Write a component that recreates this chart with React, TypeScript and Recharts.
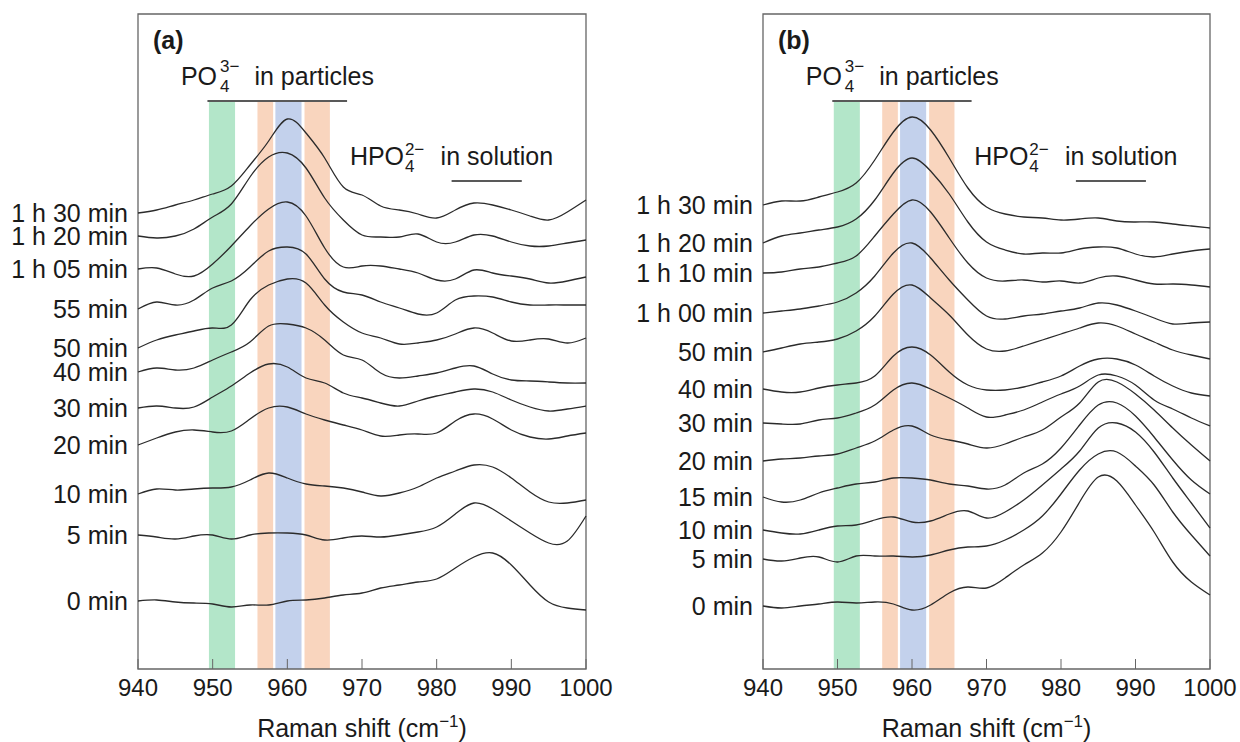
import React from "react";
import { LineChart, Line, XAxis, YAxis, ReferenceArea, ReferenceLine } from "recharts";

// Raman shift grid (cm-1)
const shifts = [940, 942.5, 945, 947.5, 950, 952.5, 955, 957.5, 960, 962.5, 965, 967.5, 970, 972.5, 975, 977.5, 980, 982.5, 985, 987.5, 990, 992.5, 995, 997.5, 1000];
const xTicks = [940, 950, 960, 970, 980, 990, 1000];

// panel (a) - stacked spectra, offset intensity (a.u.)
const labelsA = ["1 h 30 min", "1 h 20 min", "1 h 05 min", "55 min", "50 min", "40 min", "30 min", "20 min", "10 min", "5 min", "0 min"];
const a130 = [456, 459, 464, 469, 475, 483, 504, 528, 550, 536, 511, 482, 474, 463, 459, 455, 451, 459, 466, 464, 459, 453, 449, 457, 469];
const a120 = [433, 431, 433, 440, 452, 465, 492, 512, 516, 501, 471, 449, 434, 432, 432, 435, 427, 427, 434, 433, 427, 423, 423, 426, 429];
const a105 = [400, 401, 395, 393, 405, 423, 443, 460, 467, 453, 421, 402, 403, 403, 400, 396, 389, 390, 399, 396, 393, 390, 386, 388, 392];
const a55 = [360, 367, 364, 369, 381, 388, 402, 418, 422, 415, 390, 377, 374, 367, 361, 355, 356, 369, 373, 372, 367, 364, 364, 364, 364];
const a50 = [321, 329, 334, 338, 341, 344, 369, 384, 390, 386, 364, 347, 336, 331, 325, 326, 329, 335, 341, 336, 328, 329, 330, 326, 331];
const a40 = [297, 301, 299, 301, 309, 317, 327, 343, 345, 341, 329, 314, 309, 296, 291, 293, 296, 301, 303, 295, 289, 288, 287, 286, 286];
const a30 = [261, 263, 261, 262, 272, 283, 296, 305, 302, 291, 286, 276, 271, 266, 263, 268, 273, 277, 280, 277, 269, 262, 258, 260, 263];
const a20 = [224, 231, 237, 239, 237, 238, 250, 261, 262, 255, 249, 244, 239, 233, 234, 235, 236, 248, 255, 250, 239, 232, 230, 233, 236];
const a10 = [175, 180, 179, 180, 181, 182, 189, 196, 191, 185, 183, 181, 177, 173, 176, 182, 191, 198, 204, 202, 191, 177, 167, 166, 169];
const a5 = [134, 132, 130, 133, 134, 130, 134, 136, 136, 134, 129, 131, 133, 132, 134, 137, 142, 155, 166, 160, 148, 136, 126, 128, 153];
const a0 = [68, 69, 67, 66, 65, 62, 64, 64, 68, 69, 71, 74, 76, 81, 84, 87, 90, 101, 112, 116, 104, 84, 67, 61, 59];

// panel (b)
const labelsB = ["1 h 30 min", "1 h 20 min", "1 h 10 min", "1 h 00 min", "50 min", "40 min", "30 min", "20 min", "15 min", "10 min", "5 min", "0 min"];
const b130 = [464, 468, 468, 472, 477, 486, 509, 537, 552, 539, 511, 481, 462, 455, 452, 451, 449, 450, 451, 448, 447, 447, 445, 443, 441];
const b120 = [426, 433, 436, 439, 442, 450, 469, 496, 511, 498, 475, 447, 427, 419, 415, 416, 416, 420, 422, 421, 415, 412, 415, 418, 420];
const b110 = [396, 397, 400, 402, 406, 413, 433, 455, 469, 457, 431, 406, 391, 388, 389, 387, 388, 386, 391, 393, 389, 385, 385, 384, 382];
const b100 = [356, 358, 360, 363, 367, 376, 393, 416, 426, 411, 389, 369, 353, 350, 353, 355, 358, 361, 366, 364, 358, 351, 345, 346, 347];
const b50 = [317, 321, 325, 327, 330, 338, 353, 375, 384, 371, 354, 334, 320, 318, 323, 329, 335, 341, 346, 343, 335, 327, 319, 314, 310];
const b40 = [280, 277, 277, 281, 284, 286, 293, 313, 322, 314, 297, 284, 279, 279, 282, 287, 293, 303, 310, 310, 304, 293, 283, 276, 273];
const b30 = [246, 245, 245, 249, 251, 256, 264, 279, 286, 280, 271, 261, 252, 254, 259, 267, 275, 283, 294, 293, 284, 269, 260, 251, 243];
const b20 = [208, 210, 211, 213, 215, 221, 228, 239, 243, 234, 229, 225, 221, 225, 232, 239, 252, 266, 287, 287, 275, 259, 241, 224, 208];
const b15 = [172, 167, 169, 176, 181, 185, 187, 191, 191, 189, 185, 183, 180, 184, 196, 205, 221, 244, 264, 266, 253, 232, 209, 189, 175];
const b10 = [139, 136, 135, 139, 143, 144, 149, 152, 147, 148, 155, 158, 151, 157, 169, 184, 200, 218, 241, 246, 237, 217, 191, 166, 141];
const b5 = [110, 108, 111, 112, 107, 113, 113, 113, 112, 114, 119, 122, 123, 129, 139, 153, 175, 199, 215, 217, 203, 184, 157, 134, 113];
const b0 = [63, 61, 63, 65, 67, 66, 67, 65, 59, 64, 76, 82, 81, 91, 104, 116, 137, 167, 192, 188, 164, 137, 107, 87, 74];

// shaded bands (cm-1)
const bandFrom = [949.5, 956, 958.4, 962.3];
const bandTo = [953, 958.1, 961.9, 965.7];
const bandColors = ["#b3e6c9", "#f9d5be", "#c3d1ec", "#f9d5be"];

const FONT = "'Liberation Sans', Arial, Helvetica, sans-serif";
const INK = "#1a1a1a";

function buildRows(series: number[][]) {
  return shifts.map((x, i) => {
    const row: Record<string, number> = { x };
    series.forEach((s, k) => {
      row["s" + k] = s[i];
    });
    return row;
  });
}

const renderAxisTitle = (props: any) => {
  const vb = props.viewBox;
  const cx = vb.x + vb.width / 2;
  return (
    <text x={cx} y={vb.y + 68} textAnchor="middle" fontSize={25} fill={INK} fontFamily={FONT}>
      Raman shift (cm
      <tspan dy={-10} fontSize={17}>−1</tspan>
      <tspan dy={10}>)</tspan>
    </text>
  );
};

const renderPoLabel = (props: any) => {
  const vb = props.viewBox;
  const x0 = vb.x - 26.5;
  const y0 = vb.y - 16;
  return (
    <text fontSize={25} fill={INK} fontFamily={FONT}>
      <tspan x={x0} y={y0}>PO</tspan>
      <tspan x={x0 + 39} y={y0 + 7} fontSize={17}>4</tspan>
      <tspan x={x0 + 39} y={y0 - 13} fontSize={17}>3−</tspan>
      <tspan x={x0 + 73.5} y={y0}>in particles</tspan>
    </text>
  );
};

const renderHpoLabel = (props: any) => {
  const vb = props.viewBox;
  const x0 = vb.x - 101.7;
  const y0 = vb.y - 16;
  return (
    <text fontSize={25} fill={INK} fontFamily={FONT}>
      <tspan x={x0} y={y0}>HPO</tspan>
      <tspan x={x0 + 55} y={y0 + 7} fontSize={17}>4</tspan>
      <tspan x={x0 + 55} y={y0 - 10} fontSize={17}>2−</tspan>
      <tspan x={x0 + 90.7} y={y0}>in solution</tspan>
    </text>
  );
};

interface PanelProps {
  tag: string;
  series: number[][];
  labels: string[];
  yAxisWidth: number;
  rightMargin: number;
}

function Panel({ tag, series, labels, yAxisWidth, rightMargin }: PanelProps) {
  const rows = buildRows(series);
  const starts = series.map((s) => s[0]);
  const renderTag = (props: any) => (
    <text x={props.viewBox.x + 15} y={props.viewBox.y + 35} fontSize={25} fontWeight="bold" fill={INK} fontFamily={FONT}>
      {tag}
    </text>
  );

  return (
    <LineChart
      width={620}
      height={742}
      data={rows}
      margin={{ top: 14, right: rightMargin, bottom: 0, left: 0 }}
      style={{ fontFamily: FONT }}
    >
      {bandFrom.map((from, i) => (
        <ReferenceArea key={i} x1={from} x2={bandTo[i]} y1={0} y2={567} fill={bandColors[i]} fillOpacity={1} stroke="none" />
      ))}
      <XAxis
        dataKey="x"
        type="number"
        domain={[940, 1000]}
        ticks={xTicks}
        height={73}
        axisLine={false}
        tickSize={-10}
        tickMargin={20}
        tickLine={{ stroke: "#666" }}
        tick={{ fontSize: 24, fill: INK }}
        label={renderAxisTitle}
      />
      <XAxis
        xAxisId="top"
        orientation="top"
        dataKey="x"
        type="number"
        domain={[940, 1000]}
        ticks={xTicks}
        height={0}
        axisLine={false}
        tick={false}
        tickSize={-10}
        tickLine={{ stroke: "#666" }}
      />
      <YAxis
        type="number"
        domain={[0, 655]}
        ticks={starts}
        interval={0}
        width={yAxisWidth}
        axisLine={false}
        tickLine={false}
        tickSize={0}
        tickMargin={10}
        tick={{ fontSize: 25, fill: INK }}
        tickFormatter={(v: number) => labels[starts.indexOf(v)]}
      />
      <ReferenceArea x1={940} x2={1000} y1={0} y2={655} fill="none" stroke="#666" strokeWidth={1.3} label={renderTag} />
      <ReferenceLine segment={[{ x: 949.3, y: 568 }, { x: 968, y: 568 }]} stroke="#222" strokeWidth={1.5} label={renderPoLabel} />
      <ReferenceLine segment={[{ x: 982, y: 488 }, { x: 991.4, y: 488 }]} stroke="#222" strokeWidth={1.5} label={renderHpoLabel} />
      {series.map((_, k) => (
        <Line
          key={k}
          dataKey={"s" + k}
          type="natural"
          stroke="#2b2b2b"
          strokeWidth={1.3}
          dot={false}
          isAnimationActive={false}
        />
      ))}
    </LineChart>
  );
}

export default function App() {
  return (
    <div style={{ position: "absolute", left: 0, top: 0, width: 1240, height: 742, display: "flex", background: "#fff" }}>
      <Panel
        tag="(a)"
        series={[a130, a120, a105, a55, a50, a40, a30, a20, a10, a5, a0]}
        labels={labelsA}
        yAxisWidth={138}
        rightMargin={34}
      />
      <Panel
        tag="(b)"
        series={[b130, b120, b110, b100, b50, b40, b30, b20, b15, b10, b5, b0]}
        labels={labelsB}
        yAxisWidth={143}
        rightMargin={30}
      />
    </div>
  );
}
